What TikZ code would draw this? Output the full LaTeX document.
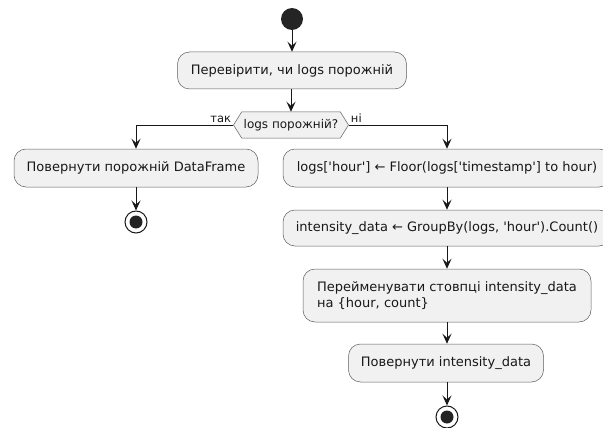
\documentclass[tikz,border=0pt]{standalone}
\usepackage{fontspec}
\setmainfont{DejaVu Sans}
\usetikzlibrary{arrows.meta,positioning,shapes.symbols}

\definecolor{actfill}{HTML}{F1F1F1}
\definecolor{actline}{HTML}{181818}
\newcommand{\sq}{\textquotesingle}

\begin{document}
\begin{tikzpicture}[
  x=1pt, y=-1pt,
  every node/.style={font=\fontsize{13}{16}\selectfont, text=actline},
  act/.style={rectangle, rounded corners=12pt, draw=actline!70, line width=0.5pt, fill=actfill, minimum height=37pt, inner xsep=11pt, align=center},
  test/.style={shape=signal, signal to=west and east, signal pointer angle=116, draw=actline!70, line width=0.5pt, fill=actfill, minimum width=115pt, minimum height=26pt, inner sep=0pt, font=\fontsize{12}{14}\selectfont},
  startnode/.style={circle, fill=actline!95, minimum size=22pt, inner sep=0pt},
  stopnode/.style={circle, draw=actline, line width=1pt, fill=white, minimum size=22pt, inner sep=0pt,
    path picture={\fill[actline!95] (path picture bounding box.center) circle (6.5pt);}},
  lbl/.style={font=\fontsize{11.5}{14}\selectfont, inner sep=1pt},
  arrow/.style={-{Stealth[length=10pt, width=9pt, inset=4pt]}, line width=1pt, draw=actline}
]
  \useasboundingbox (0,0) rectangle (603,428);

  \node[startnode] (start) at (292,19) {};
  \node[act, minimum width=229pt] (check) at (292,70.5) {Перевірити, чи logs порожній};
  \node[test] (empty) at (291,125) {logs порожній?};
  \node[lbl, above left=1pt and 1pt of empty.west] (yes) {так};
  \node[lbl, above right=1pt and 1pt of empty.east] (no) {ні};

  \node[act, minimum width=244pt, minimum height=38pt] (retEmpty) at (136,168) {Повернути порожній DataFrame};
  \node[stopnode] (stopL) at (136,222) {};

  \node[act, minimum width=328pt, minimum height=38pt] (floor) at (447,168) {logs[\sq hour\sq] ← Floor(logs[\sq timestamp\sq] to hour)};
  \node[act, minimum width=328pt, minimum height=36pt] (group) at (447,228) {intensity\_data ← GroupBy(logs, \sq hour\sq).Count()};
  \node[act, minimum width=288pt, minimum height=53pt, align=left] (rename) at (447,295.5) {Перейменувати стовпці intensity\_data\\на \{hour, count\}};
  \node[act, minimum width=195pt, minimum height=38pt] (retData) at (446,363) {Повернути intensity\_data};
  \node[stopnode] (stopR) at (447,417) {};

  \draw[arrow] (start) -- (check);
  \draw[arrow] (check.south -| empty.north) -- (empty.north);
  \draw[arrow] (empty.west) -| (retEmpty.north);
  \draw[arrow] (retEmpty) -- (stopL);
  \draw[arrow] (empty.east) -| (floor.north);
  \draw[arrow] (floor) -- (group);
  \draw[arrow] (group) -- (rename);
  \draw[arrow] (rename.south) -- (rename.south |- retData.north);
  \draw[arrow] (retData.south -| stopR.north) -- (stopR);
\end{tikzpicture}
\end{document}
